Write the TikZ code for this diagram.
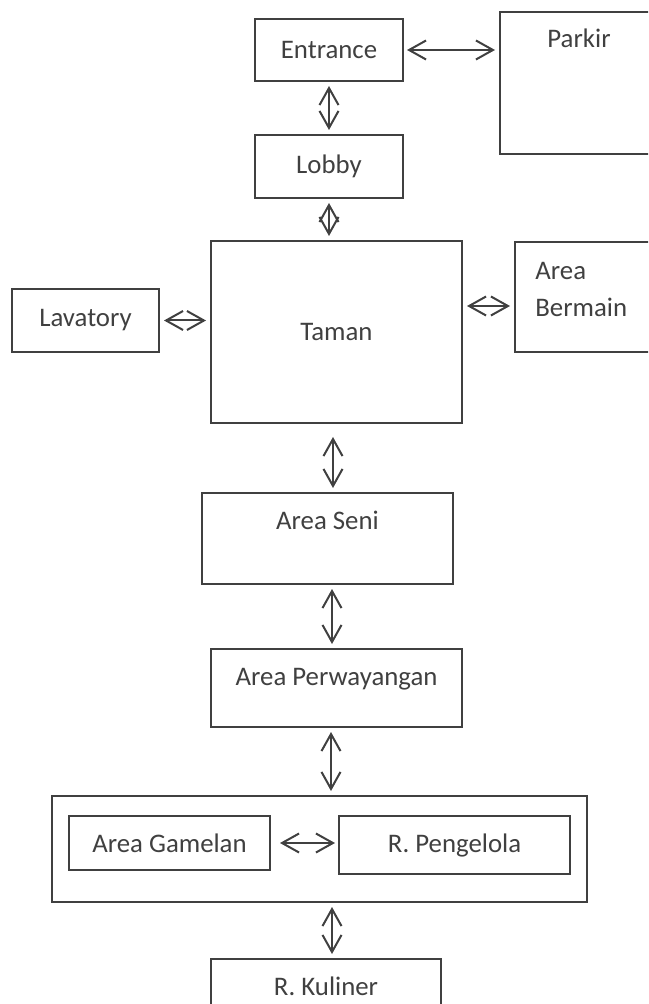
\documentclass[tikz,border=0pt]{standalone}
\usepackage{fontspec}
\setmainfont{Carlito}
\usetikzlibrary{arrows.meta}
\definecolor{ink}{HTML}{404040}
\tikzset{
  box/.style 2 args={draw=ink, line width=1pt, inner sep=0pt, minimum width=#1, minimum height=#2},
  toplbl/.style={label={[anchor=base, yshift=-18.5pt]north:#1}},
  link/.style={draw=ink, line width=1pt, <->, shorten <=2pt, shorten >=2pt},
  >={Straight Barb[length=8.5pt,width=9.5pt]}
}
\begin{document}
\begin{tikzpicture}[x=0.5pt, y=-0.5pt, font=\fontsize{13.4}{18.5}\selectfont, text=ink]
 \clip (0,0) rectangle (648,1004);
 \fill[white] (0,0) rectangle (648,1004);
 % boxes
 \node[box={74pt}{31pt}] (entrance) at (329,50) {Entrance};
 \node[box={79pt}{71pt}, toplbl=Parkir] (parkir) at (579,83) {};
 \node[box={74pt}{31.5pt}] (lobby) at (329,166.5) {Lobby};
 \node[box={125.5pt}{91pt}] (taman) at (336.5,332) {Taman};
 \node[box={73.5pt}{31.5pt}] (lavatory) at (85.5,320.5) {Lavatory};
 \node[box={72.5pt}{55pt}, label={[anchor=north west, align=left, inner sep=0pt, xshift=10.5pt, yshift=-10.5pt]north west:Area\\Bermain}] (bermain) at (587.5,297) {};
 \node[box={125.5pt}{45.5pt}, toplbl=Area Seni] (seni) at (327.5,538.5) {};
 \node[box={125.5pt}{39pt}, toplbl=Area Perwayangan] (perw) at (336.5,688) {};
 \node[box={267.5pt}{53pt}] (group) at (319.5,849) {};
 \node[box={100.5pt}{27pt}] (gamelan) at (169.5,843) {Area Gamelan};
 \node[box={115.5pt}{29pt}] (pengelola) at (454.5,845) {R. Pengelola};
 \node[box={115pt}{40.5pt}, toplbl=R. Kuliner] (kuliner) at (326,999.5) {};
 % links
 \draw[link, shorten <=1.5pt] (entrance.east) -- (entrance.east -| parkir.west);
 \draw[link] (entrance) -- (lobby);
 \draw[link] (lobby.south) -- (lobby.south |- taman.north);
 \draw[link] (lavatory.east) -- (lavatory.east -| taman.west);
 \draw[link] ([yshift=-4.5pt]bermain.west) -- ([yshift=-4.5pt]bermain.west -| taman.east);
 \draw[link, shorten <=6.5pt] ([xshift=-1.75pt]taman.south) -- ([xshift=-1.75pt]taman.south |- seni.north);
 \draw[link] ([xshift=2.25pt]seni.south) -- ([xshift=2.25pt]seni.south |- perw.north);
 \draw[link] ([xshift=-2.75pt]perw.south) -- ([xshift=-2.75pt]perw.south |- group.north);
 \draw[link, shorten <=4.5pt, shorten >=1.5pt] (gamelan.east) -- (gamelan.east -| pengelola.west);
 \draw[link] ([xshift=3pt]group.south -| kuliner.north) -- ([xshift=3pt]kuliner.north);
\end{tikzpicture}
\end{document}
